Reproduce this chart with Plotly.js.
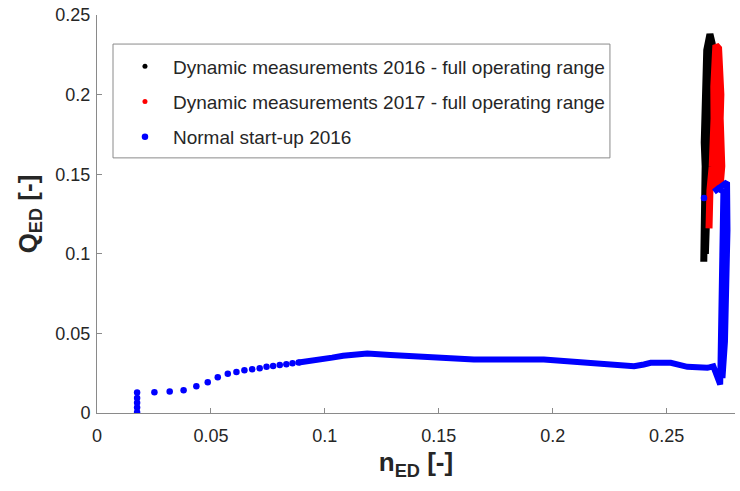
<!DOCTYPE html>
<html>
<head>
<meta charset="utf-8">
<script src="https://cdn.plot.ly/plotly-3.0.1.min.js"></script>
<style>html,body{margin:0;padding:0;background:#fff;}#chart{width:740px;height:491px;}</style>
</head>
<body>
<div id="chart"></div>
<script>
const black2016_n = [0.2663,0.2666,0.2670,0.2667,0.2669,0.2665,0.2667,0.2665,0.2669,0.2676,0.2690,0.2700,0.2697,0.2692,0.2690,0.2686,0.2682,0.2678,0.2670];
const black2016_q = [0.095,0.110,0.125,0.140,0.155,0.170,0.185,0.200,0.215,0.228,0.238,0.232,0.215,0.195,0.170,0.150,0.130,0.112,0.100];
// Dynamic measurements 2017 (red)
const red2017_n = [0.2686,0.2685,0.2690,0.2700,0.2706,0.2708,0.2707,0.2710,0.2716,0.2728,0.2736,0.2738,0.2735,0.2738,0.2742,0.2735,0.2722,0.2716,0.2722,0.2718,0.2712];
const red2017_q = [0.116,0.128,0.140,0.155,0.170,0.185,0.205,0.220,0.231,0.229,0.215,0.200,0.185,0.170,0.155,0.143,0.140,0.150,0.165,0.178,0.150];
// Normal start-up 2016 (blue) - sparse early samples
const startup_n_sparse = [0.0176,0.0176,0.0176,0.0176,0.0176,0.0252,0.0319,0.0380,0.0436,0.0486,0.0530,0.0574,0.0612,0.0647,0.0681,0.0714,0.0744,0.0773,0.0802,0.0831,0.0858,0.0885,0.2664];
const startup_q_sparse = [0.0005,0.0035,0.0065,0.0095,0.0128,0.0131,0.0135,0.0143,0.0168,0.0193,0.0225,0.0246,0.0258,0.0269,0.0275,0.0281,0.0290,0.0296,0.0302,0.0306,0.0312,0.0317,0.135];
// Normal start-up 2016 (blue) - dense later samples
const startup_n_dense = [0.0885,0.0937,0.0988,0.1032,0.1080,0.1186,0.1288,0.1434,0.1522,0.1654,0.1961,0.2108,0.2240,0.2357,0.2400,0.2430,0.2518,0.2591,0.2679,0.2705,0.2735,0.2738,0.2741,0.2745,0.2749,0.2725,0.2708,0.2740,0.2765,0.2767,0.2763,0.2756,0.2745];
const startup_q_dense = [0.0317,0.0325,0.0336,0.0348,0.0360,0.0373,0.0365,0.0352,0.0346,0.0336,0.0336,0.0321,0.0309,0.0294,0.0305,0.0315,0.0315,0.0290,0.0284,0.0293,0.0180,0.040,0.080,0.120,0.139,0.141,0.139,0.142,0.145,0.115,0.080,0.045,0.022];

const xTicks = [0,0.05,0.1,0.15,0.2,0.25];
const xTickText = ['0','0.05','0.1','0.15','0.2','0.25'];
const yTicks = [0,0.05,0.1,0.15,0.2,0.25];
const yTickText = ['0','0.05','0.1','0.15','0.2','0.25'];
const seriesNames = ['Dynamic measurements 2016 - full operating range','Dynamic measurements 2017 - full operating range','Normal start-up 2016'];

const FONT = 'Liberation Sans, Arial, Helvetica, sans-serif';
const LW = 7;
const traces = [
  {x: black2016_n, y: black2016_q, mode: 'lines', line: {color: '#000000', width: LW}, showlegend: false, legendgroup: 'a', hoverinfo: 'skip'},
  {x: [null], y: [null], mode: 'markers', marker: {color: '#000000', size: 5}, name: seriesNames[0], legendgroup: 'a'},
  {x: red2017_n, y: red2017_q, mode: 'lines', line: {color: '#ff0000', width: LW}, showlegend: false, legendgroup: 'b', hoverinfo: 'skip'},
  {x: [null], y: [null], mode: 'markers', marker: {color: '#ff0000', size: 5}, name: seriesNames[1], legendgroup: 'b'},
  {x: startup_n_dense, y: startup_q_dense, mode: 'lines', line: {color: '#0000ff', width: 6}, showlegend: false, legendgroup: 'c', hoverinfo: 'skip'},
  {x: startup_n_sparse, y: startup_q_sparse, mode: 'markers', marker: {color: '#0000ff', size: 6.5}, name: seriesNames[2], legendgroup: 'c'}
];

const axisCommon = {
  showgrid: false, zeroline: false, showline: true, linecolor: '#8a8a8a', linewidth: 1,
  ticks: 'inside', ticklen: 5, tickcolor: '#8a8a8a', tickwidth: 1,
  tickfont: {family: FONT, size: 18, color: '#262626'},
  mirror: false
};

const layout = {
  width: 740, height: 491,
  margin: {l: 97, r: 5, t: 15, b: 77.5},
  paper_bgcolor: '#ffffff', plot_bgcolor: '#ffffff',
  font: {family: FONT, color: '#262626'},
  xaxis: Object.assign({}, axisCommon, {
    range: [0, 0.28], tickvals: xTicks, ticktext: xTickText, ticklabelstandoff: 6,
    title: {text: '<b>n<sub>ED</sub> [-]</b>', font: {size: 26, color: '#262626'}, standoff: 8}
  }),
  yaxis: Object.assign({}, axisCommon, {
    range: [0, 0.25], tickvals: yTicks, ticktext: yTickText, ticklabelstandoff: 2,
    title: {text: '<b>Q<sub>ED</sub> [-]</b>', font: {size: 26, color: '#262626'}, standoff: 10}
  }),
  legend: {
    x: 0.0313, y: 0.9184, xanchor: 'left', yanchor: 'top',
    borderwidth: 0, bgcolor: 'rgba(0,0,0,0)',
    font: {family: FONT, size: 19, color: '#262626'},
    itemwidth: 46,
    traceorder: 'grouped', tracegroupgap: 7.5
  },
  shapes: [{
    type: 'rect', xref: 'paper', yref: 'paper',
    x0: 0.0251, x1: 0.804, y0: 0.641, y1: 0.927,
    line: {color: '#8a8a8a', width: 1}, fillcolor: '#ffffff', layer: 'below'
  }],
  showlegend: true
};

Plotly.newPlot('chart', traces, layout, {displayModeBar: false, staticPlot: true});
</script>
</body>
</html>
